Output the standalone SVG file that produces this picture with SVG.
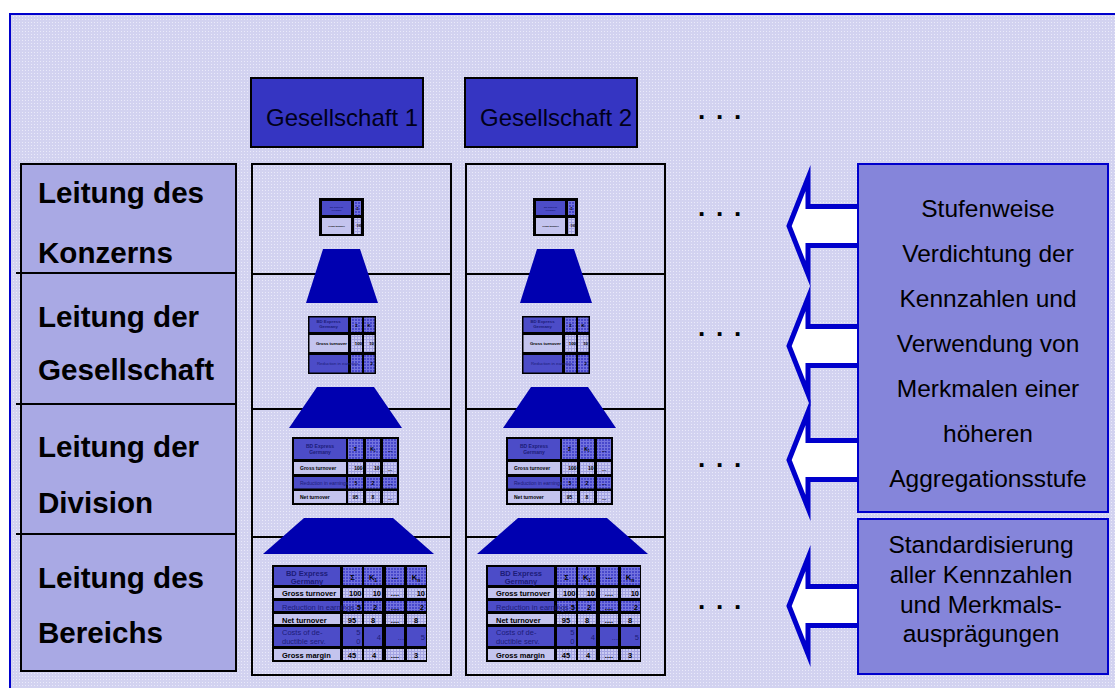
<svg xmlns="http://www.w3.org/2000/svg" xmlns:xlink="http://www.w3.org/1999/xlink" width="1115" height="688" viewBox="0 0 1115 688">
<defs>
<style>
text{font-family:"Liberation Sans",Arial,Helvetica,sans-serif}
.lbl{font-weight:bold;font-size:29.6px;fill:#000}
.hdr{font-size:24px;fill:#00001a}
.note{font-size:24.5px;fill:#000;text-anchor:middle}
.dots{font-weight:bold;font-size:26px;fill:#000;letter-spacing:10.8px}
.frame{fill:none;stroke:#000;stroke-width:2}
.sep{stroke:#000;stroke-width:2}
.trap{fill:#0000b0}
.arrow{fill:#fff;stroke:#0000cc;stroke-width:5;stroke-miterlimit:10}
.box{fill:#8585da;stroke:#0000cc;stroke-width:2}
.gbox{fill:#3535c2;stroke:#000;stroke-width:2}
.tb{fill:#000}
.cd{fill:#4c4cc8}
.cl{fill:#c4c4ee}
.nd{fill:url(#gd)}
.nl{fill:url(#gl)}
.b{font-weight:bold;fill:#000}
.nv{fill:#1c1c78}
.m{text-anchor:middle}
.e{text-anchor:end}
.t7{font-size:7.5px}
.t5{font-size:5px}
.t4{font-size:4.3px}
.t2{font-size:2.3px}
</style>
<pattern id="bgp" width="3" height="3" patternUnits="userSpaceOnUse"><rect width="3" height="3" fill="#d2d2f0"/><rect x="1" y="1" width="1" height="1" fill="#eaeafa"/></pattern>
<pattern id="gd" width="3" height="3" patternUnits="userSpaceOnUse"><rect width="3" height="3" fill="#4848cc"/><path d="M0 .5H3M.5 0V3" stroke="#7373de" stroke-width="1"/></pattern>
<pattern id="gl" width="3" height="3" patternUnits="userSpaceOnUse"><rect width="3" height="3" fill="#cacaf2"/><path d="M0 .5H3M.5 0V3" stroke="#a4a4e2" stroke-width="1"/></pattern>
<path id="arr" class="arrow" d="M789 0 L808 -48 L808 -19.5 L862 -19.5 L862 19.5 L808 19.5 L808 48 Z"/>
<g id="stack">
  <rect class="frame" x="252" y="164" width="199" height="511"/>
  <line class="sep" x1="252" y1="274" x2="451" y2="274"/>
  <line class="sep" x1="252" y1="409" x2="451" y2="409"/>
  <line class="sep" x1="252" y1="537" x2="451" y2="537"/>
  <polygon class="trap" points="323,249 360,249 378,303 306,303"/>
  <polygon class="trap" points="317,387 374,387 402,428 289,428"/>
  <polygon class="trap" points="304,518 393,518 434,554 263,554"/>
  <!-- table level 1 -->
  <rect class="tb" x="319" y="198" width="45" height="38"/>
  <rect class="cd" x="322" y="201" width="29" height="14"/>
  <rect class="nd" x="354" y="201" width="7" height="14"/>
  <rect class="cl" x="322" y="218" width="29" height="16"/>
  <rect class="nl" x="354" y="218" width="7" height="16"/>
  <text class="t2 b nv m" x="336.5" y="207.5">BD Express</text>
  <text class="t2 b nv m" x="336.5" y="210.5">Germany</text>
  <text class="b m" font-size="3.5" x="357.5" y="209.5">Σ</text>
  <text class="t2 b m" x="336.5" y="227">Gross turnover</text>
  <text class="b e" font-size="3" x="361.5" y="227">100</text>
  <!-- table level 2 -->
  <rect class="tb" x="308" y="316" width="68" height="58"/>
  <rect class="cd" x="309.5" y="317.5" width="38.5" height="14.5"/>
  <rect class="nd" x="351" y="317.5" width="11" height="14.5"/>
  <rect class="nd" x="364" y="317.5" width="10.5" height="14.5"/>
  <rect class="cl" x="309.5" y="335" width="38.5" height="17"/>
  <rect class="nl" x="351" y="335" width="11" height="17"/>
  <rect class="nl" x="364" y="335" width="10.5" height="17"/>
  <rect class="cd" x="309.5" y="355" width="38.5" height="17.5"/>
  <rect class="nd" x="351" y="355" width="11" height="17.5"/>
  <rect class="nd" x="364" y="355" width="10.5" height="17.5"/>
  <text class="t4 b nv m" x="328.5" y="323">BD Express</text>
  <text class="t4 b nv m" x="328.5" y="328">Germany</text>
  <text class="t4 b m" x="356.5" y="327">Σ</text>
  <text class="t4 b m" x="369" y="327">K</text>
  <text class="t4 b" x="316" y="345">Gross turnover</text>
  <text class="t4 b e" x="362" y="345">100</text>
  <text class="t4 b e" x="374" y="345">10</text>
  <text class="t4 nv" x="317" y="365">Reduction in earnings</text>
  <text class="t4 b e" x="373" y="365">2</text>
  <!-- table level 3 -->
  <rect class="tb" x="292" y="437" width="107" height="68"/>
  <rect class="cd" x="294" y="439" width="52" height="20"/>
  <rect class="nd" x="348" y="439" width="15" height="20"/>
  <rect class="nd" x="366" y="439" width="14" height="20"/>
  <rect class="nd" x="383" y="439" width="14" height="20"/>
  <rect class="cl" x="294" y="462" width="52" height="12"/>
  <rect class="nl" x="348" y="462" width="15" height="12"/>
  <rect class="nl" x="366" y="462" width="14" height="12"/>
  <rect class="nl" x="383" y="462" width="14" height="12"/>
  <rect class="cd" x="294" y="477" width="52" height="11.5"/>
  <rect class="nd" x="348" y="477" width="15" height="11.5"/>
  <rect class="nd" x="366" y="477" width="14" height="11.5"/>
  <rect class="nd" x="383" y="477" width="14" height="11.5"/>
  <rect class="cl" x="294" y="491" width="52" height="12"/>
  <rect class="nl" x="348" y="491" width="15" height="12"/>
  <rect class="nl" x="366" y="491" width="14" height="12"/>
  <rect class="nl" x="383" y="491" width="14" height="12"/>
  <text class="t5 b nv m" x="320" y="448">BD Express</text>
  <text class="t5 b nv m" x="320" y="453.5">Germany</text>
  <text class="t5 b m" x="355.5" y="451">Σ</text>
  <text class="t5 b m" x="373" y="451">K<tspan font-size="3" dy="1">1</tspan></text>
  <text class="t5 b m" x="390" y="452">...</text>
  <text class="t5 b" x="300" y="470">Gross turnover</text>
  <text class="t5 b e" x="362.5" y="470">100</text>
  <text class="t5 b e" x="379.5" y="470">10</text>
  <text class="t5 b m" x="390" y="471">...</text>
  <text class="t5 nv" x="300" y="484.5">Reduction in earnings</text>
  <text class="t5 b m" x="356" y="484.5">5</text>
  <text class="t5 b m" x="373" y="484.5">2</text>
  <text class="t5 b m" x="390" y="485">...</text>
  <text class="t5 b" x="300" y="499">Net turnover</text>
  <text class="t5 b m" x="355.5" y="499">95</text>
  <text class="t5 b m" x="373" y="499">8</text>
  <text class="t5 b m" x="390" y="500">...</text>
  <!-- table level 4 -->
  <rect class="tb" x="272" y="565" width="155" height="97"/>
  <rect class="cd" x="274" y="567" width="66" height="18"/>
  <rect class="nd" x="343" y="567" width="19" height="18"/>
  <rect class="nd" x="364" y="567" width="18" height="18"/>
  <rect class="nd" x="386" y="567" width="18" height="18"/>
  <rect class="nd" x="407" y="567" width="19" height="18"/>
  <rect class="cl" x="274" y="588" width="66" height="10"/>
  <rect class="nl" x="343" y="588" width="19" height="10"/>
  <rect class="nl" x="364" y="588" width="18" height="10"/>
  <rect class="nl" x="386" y="588" width="18" height="10"/>
  <rect class="nl" x="407" y="588" width="19" height="10"/>
  <rect class="cd" x="274" y="601" width="66" height="10"/>
  <rect class="nd" x="343" y="601" width="19" height="10"/>
  <rect class="nd" x="364" y="601" width="18" height="10"/>
  <rect class="nd" x="386" y="601" width="18" height="10"/>
  <rect class="nd" x="407" y="601" width="19" height="10"/>
  <rect class="cl" x="274" y="614" width="66" height="10"/>
  <rect class="nl" x="343" y="614" width="19" height="10"/>
  <rect class="nl" x="364" y="614" width="18" height="10"/>
  <rect class="nl" x="386" y="614" width="18" height="10"/>
  <rect class="nl" x="407" y="614" width="19" height="10"/>
  <rect class="cd" x="274" y="627" width="66" height="19"/>
  <rect class="cd" x="343" y="627" width="19" height="19"/>
  <rect class="cd" x="364" y="627" width="18" height="19"/>
  <rect class="cd" x="386" y="627" width="18" height="19"/>
  <rect class="cd" x="407" y="627" width="19" height="19"/>
  <rect class="cl" x="274" y="649" width="66" height="11"/>
  <rect class="nl" x="343" y="649" width="19" height="11"/>
  <rect class="nl" x="364" y="649" width="18" height="11"/>
  <rect class="nl" x="386" y="649" width="18" height="11"/>
  <rect class="nl" x="407" y="649" width="19" height="11"/>
  <text class="t7 b nv m" x="307" y="576">BD Express</text>
  <text class="t7 b nv m" x="307" y="583.5">Germany</text>
  <text class="t7 b m" x="352.5" y="580">Σ</text>
  <text class="t7 b m" x="373" y="580">K<tspan font-size="5" dy="2">1</tspan></text>
  <text class="t7 b m" x="395" y="579">...</text>
  <text class="t7 b m" x="416" y="580">K<tspan font-size="5" dy="2">n</tspan></text>
  <text class="t7 b" x="282" y="596">Gross turnover</text>
  <text class="t7 b e" x="361.5" y="596">100</text>
  <text class="t7 b e" x="381" y="596">10</text>
  <text class="t7 b m" x="395" y="596">....</text>
  <text class="t7 b e" x="425" y="596">10</text>
  <text class="t7 nv" x="282" y="609.5">Reduction in earnings</text>
  <text class="t7 b e" x="361" y="609.5">5</text>
  <text class="t7 b m" x="375" y="609.5">2</text>
  <text class="t7 b m" x="395" y="609.5">....</text>
  <text class="t7 b e" x="424" y="609.5">2</text>
  <text class="t7 b" x="282" y="622.5">Net turnover</text>
  <text class="t7 b m" x="352" y="622.5">95</text>
  <text class="t7 b m" x="373" y="622.5">8</text>
  <text class="t7 b m" x="395" y="622.5">....</text>
  <text class="t7 b m" x="416" y="622.5">8</text>
  <text class="t7 nv" x="282" y="635">Costs of de-</text>
  <text class="t7 nv" x="282" y="643.5">ductible serv.</text>
  <text class="t7 nv e" x="360.5" y="635">5</text>
  <text class="t7 nv e" x="360.5" y="643.5">0</text>
  <text class="t7 nv e" x="381" y="640">4</text>
  <text class="t7 nv e" x="404" y="640">...</text>
  <text class="t7 nv e" x="425" y="640">5</text>
  <text class="t7 b" x="282" y="657.5">Gross margin</text>
  <text class="t7 b m" x="352" y="657.5">45</text>
  <text class="t7 b m" x="374" y="657.5">4</text>
  <text class="t7 b m" x="395" y="657.5">....</text>
  <text class="t7 b m" x="416" y="657.5">3</text>
</g>
</defs>

<g id="panel">
  <rect x="10" y="14" width="1115" height="690" fill="url(#bgp)" stroke="#0000cc" stroke-width="2"/>
</g>

<g id="levels">
  <rect x="21" y="164" width="215" height="507" fill="#a9a9e4" stroke="#000" stroke-width="2"/>
  <line class="sep" x1="16" y1="273" x2="236" y2="273"/>
  <line class="sep" x1="16" y1="404" x2="236" y2="404"/>
  <line class="sep" x1="16" y1="534" x2="236" y2="534"/>
  <text class="lbl" x="38" y="203">Leitung des</text>
  <text class="lbl" x="38" y="263">Konzerns</text>
  <text class="lbl" x="38" y="327">Leitung der</text>
  <text class="lbl" x="38" y="380">Gesellschaft</text>
  <text class="lbl" x="38" y="457">Leitung der</text>
  <text class="lbl" x="38" y="513">Division</text>
  <text class="lbl" x="38" y="588">Leitung des</text>
  <text class="lbl" x="38" y="643">Bereichs</text>
</g>

<g id="gesellschaft-1">
  <rect class="gbox" x="251" y="78" width="172" height="69"/>
  <text class="hdr" x="266" y="126">Gesellschaft 1</text>
  <use xlink:href="#stack" href="#stack"/>
</g>

<g id="gesellschaft-2">
  <rect class="gbox" x="465" y="78" width="172" height="69"/>
  <text class="hdr" x="480" y="126">Gesellschaft 2</text>
  <use xlink:href="#stack" href="#stack" x="214"/>
</g>

<g id="ellipses">
  <text class="dots" x="698" y="119">...</text>
  <text class="dots" x="698" y="216">...</text>
  <text class="dots" x="698" y="336">...</text>
  <text class="dots" x="698" y="467">...</text>
  <text class="dots" x="698" y="609">...</text>
</g>

<g id="connectors">
  <use xlink:href="#arr" href="#arr" y="226"/>
  <use xlink:href="#arr" href="#arr" y="346"/>
  <use xlink:href="#arr" href="#arr" y="460"/>
  <use xlink:href="#arr" href="#arr" y="606"/>
</g>

<g id="note-verdichtung">
  <rect class="box" x="858" y="164" width="250" height="348"/>
  <text class="note" x="988" y="217">Stufenweise</text>
  <text class="note" x="988" y="262">Verdichtung der</text>
  <text class="note" x="988" y="307">Kennzahlen und</text>
  <text class="note" x="988" y="352">Verwendung von</text>
  <text class="note" x="988" y="397">Merkmalen einer</text>
  <text class="note" x="988" y="442">höheren</text>
  <text class="note" x="988" y="487">Aggregationsstufe</text>
</g>

<g id="note-standardisierung">
  <rect class="box" x="858" y="519" width="250" height="155"/>
  <text class="note" x="981" y="553">Standardisierung</text>
  <text class="note" x="981" y="583">aller Kennzahlen</text>
  <text class="note" x="981" y="613">und Merkmals-</text>
  <text class="note" x="981" y="642">ausprägungen</text>
</g>
</svg>
